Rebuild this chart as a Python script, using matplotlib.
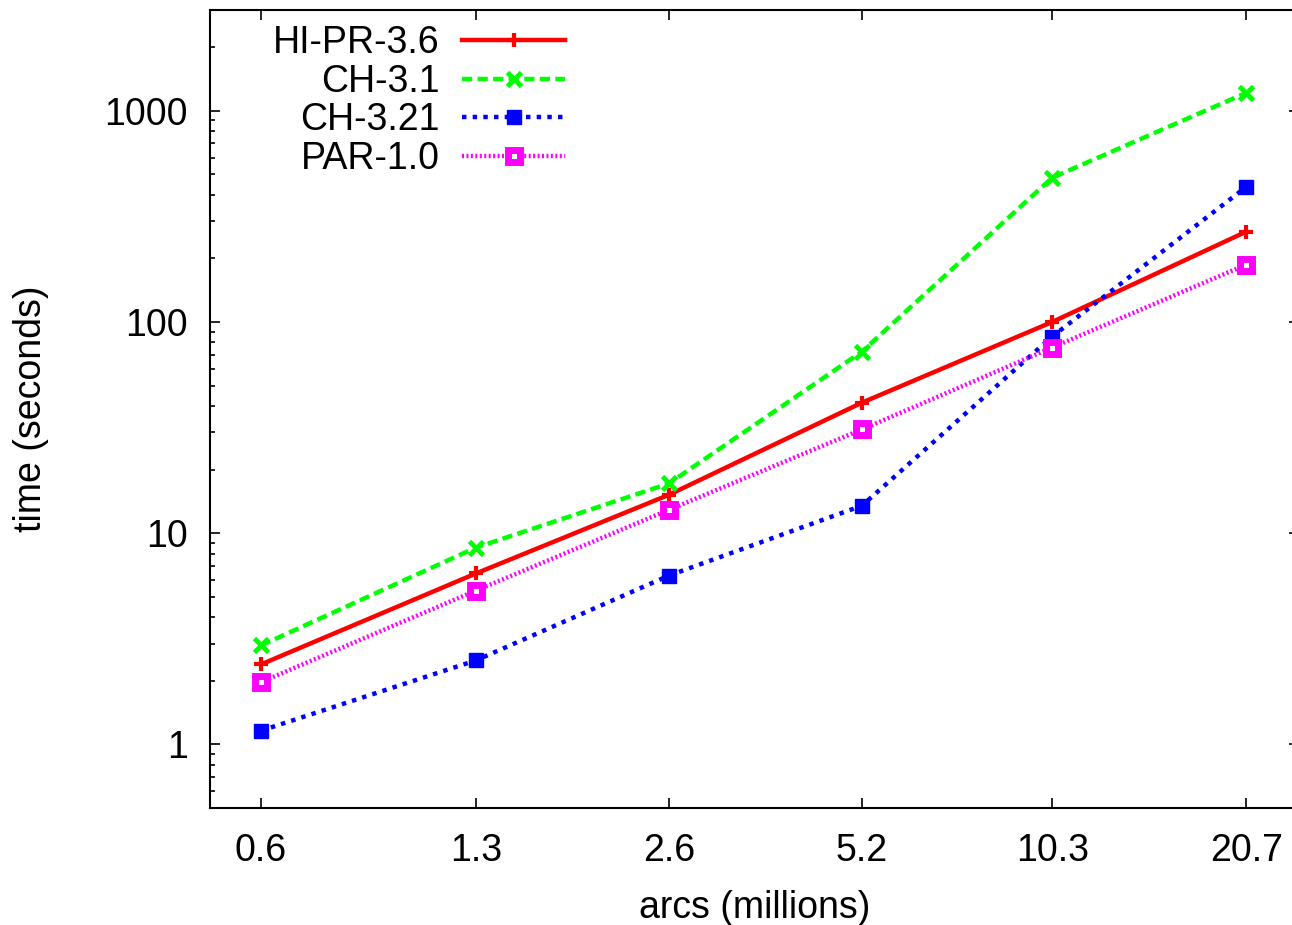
import matplotlib
matplotlib.use("Agg")
from matplotlib import pyplot as plt
from matplotlib.ticker import FixedLocator, FixedFormatter, NullLocator, LogLocator
import numpy as np

###########################
# données
arcs = [0.6, 1.3, 2.6, 5.2, 10.3, 20.7]
arcs_labels = ['0.6', '1.3', '2.6', '5.2', '10.3', '20.7']

hipr_36 = [2.39, 6.45, 15.2, 41.5, 100, 268]
ch_31 = [2.94, 8.55, 17.2, 72.4, 482, 1218]
ch_321 = [1.16, 2.50, 6.3, 13.5, 85.3, 437]
par_10 = [1.97, 5.35, 12.9, 31.0, 75.7, 187]

y_ticks = [1, 10, 100, 1000]
###########################

plt.rcParams['font.family'] = ['Liberation Sans', 'DejaVu Sans']
plt.rcParams['font.size'] = 27

W, H = 1292, 925
fig = plt.figure(figsize=(W / 100, H / 100), dpi=100)
# axe de droite hors de l'image (comme dans la figure d'origine)
ax = fig.add_axes([210 / W, (H - 808) / H, (1299 - 210) / W, (808 - 10) / H])

ax.plot(arcs, hipr_36, '-', color='#ff0000', lw=3.2, marker='+', ms=10, mew=3,
        label='HI-PR-3.6')
ax.plot(arcs, ch_31, color='#00ff00', lw=3.2, dashes=(2.3, 1.2), marker='x',
        ms=10, mew=3.5, label='CH-3.1')
ax.plot(arcs, ch_321, color='#0000ff', lw=3.2, dashes=(1.0, 1.4), marker='s',
        ms=10, mew=1, label='CH-3.21')
ax.plot(arcs, par_10, color='#ff00ff', lw=3.2, dashes=(0.45, 0.55), marker='s',
        ms=8.5, mew=5, mfc='white', mec='#ff00ff', label='PAR-1.0')

ax.set_xscale('log')
ax.set_yscale('log')
ax.set_xlim(0.5, 25)
ax.set_ylim(0.5, 3000)

ax.xaxis.set_major_locator(FixedLocator(arcs))
ax.xaxis.set_major_formatter(FixedFormatter(arcs_labels))
ax.xaxis.set_minor_locator(NullLocator())
ax.yaxis.set_major_locator(FixedLocator(y_ticks))
ax.yaxis.set_major_formatter(FixedFormatter([str(v) for v in y_ticks]))
ax.yaxis.set_minor_locator(LogLocator(base=10, subs=np.arange(2, 10)))

ax.tick_params(axis='both', which='both', direction='in', top=True, right=True,
               width=1.2, colors='black')
ax.tick_params(axis='both', which='major', length=7)
ax.tick_params(axis='both', which='minor', length=3.5)
ax.tick_params(axis='x', which='major', pad=18)
ax.tick_params(axis='y', which='major', pad=16)
for s in ax.spines.values():
    s.set_linewidth(1.5)

ax.set_xlabel('arcs (millions)', labelpad=15)
ax.set_ylabel('time (seconds)', labelpad=40)

leg = ax.legend(loc='upper left', bbox_to_anchor=(273 / W, 1 - 25 / H),
                bbox_transform=fig.transFigure, frameon=False, markerfirst=False,
                handlelength=2.75, handletextpad=0.6, labelspacing=0.07,
                borderpad=0, borderaxespad=0, fontsize=27)

fig.savefig('out.png', dpi=100)
